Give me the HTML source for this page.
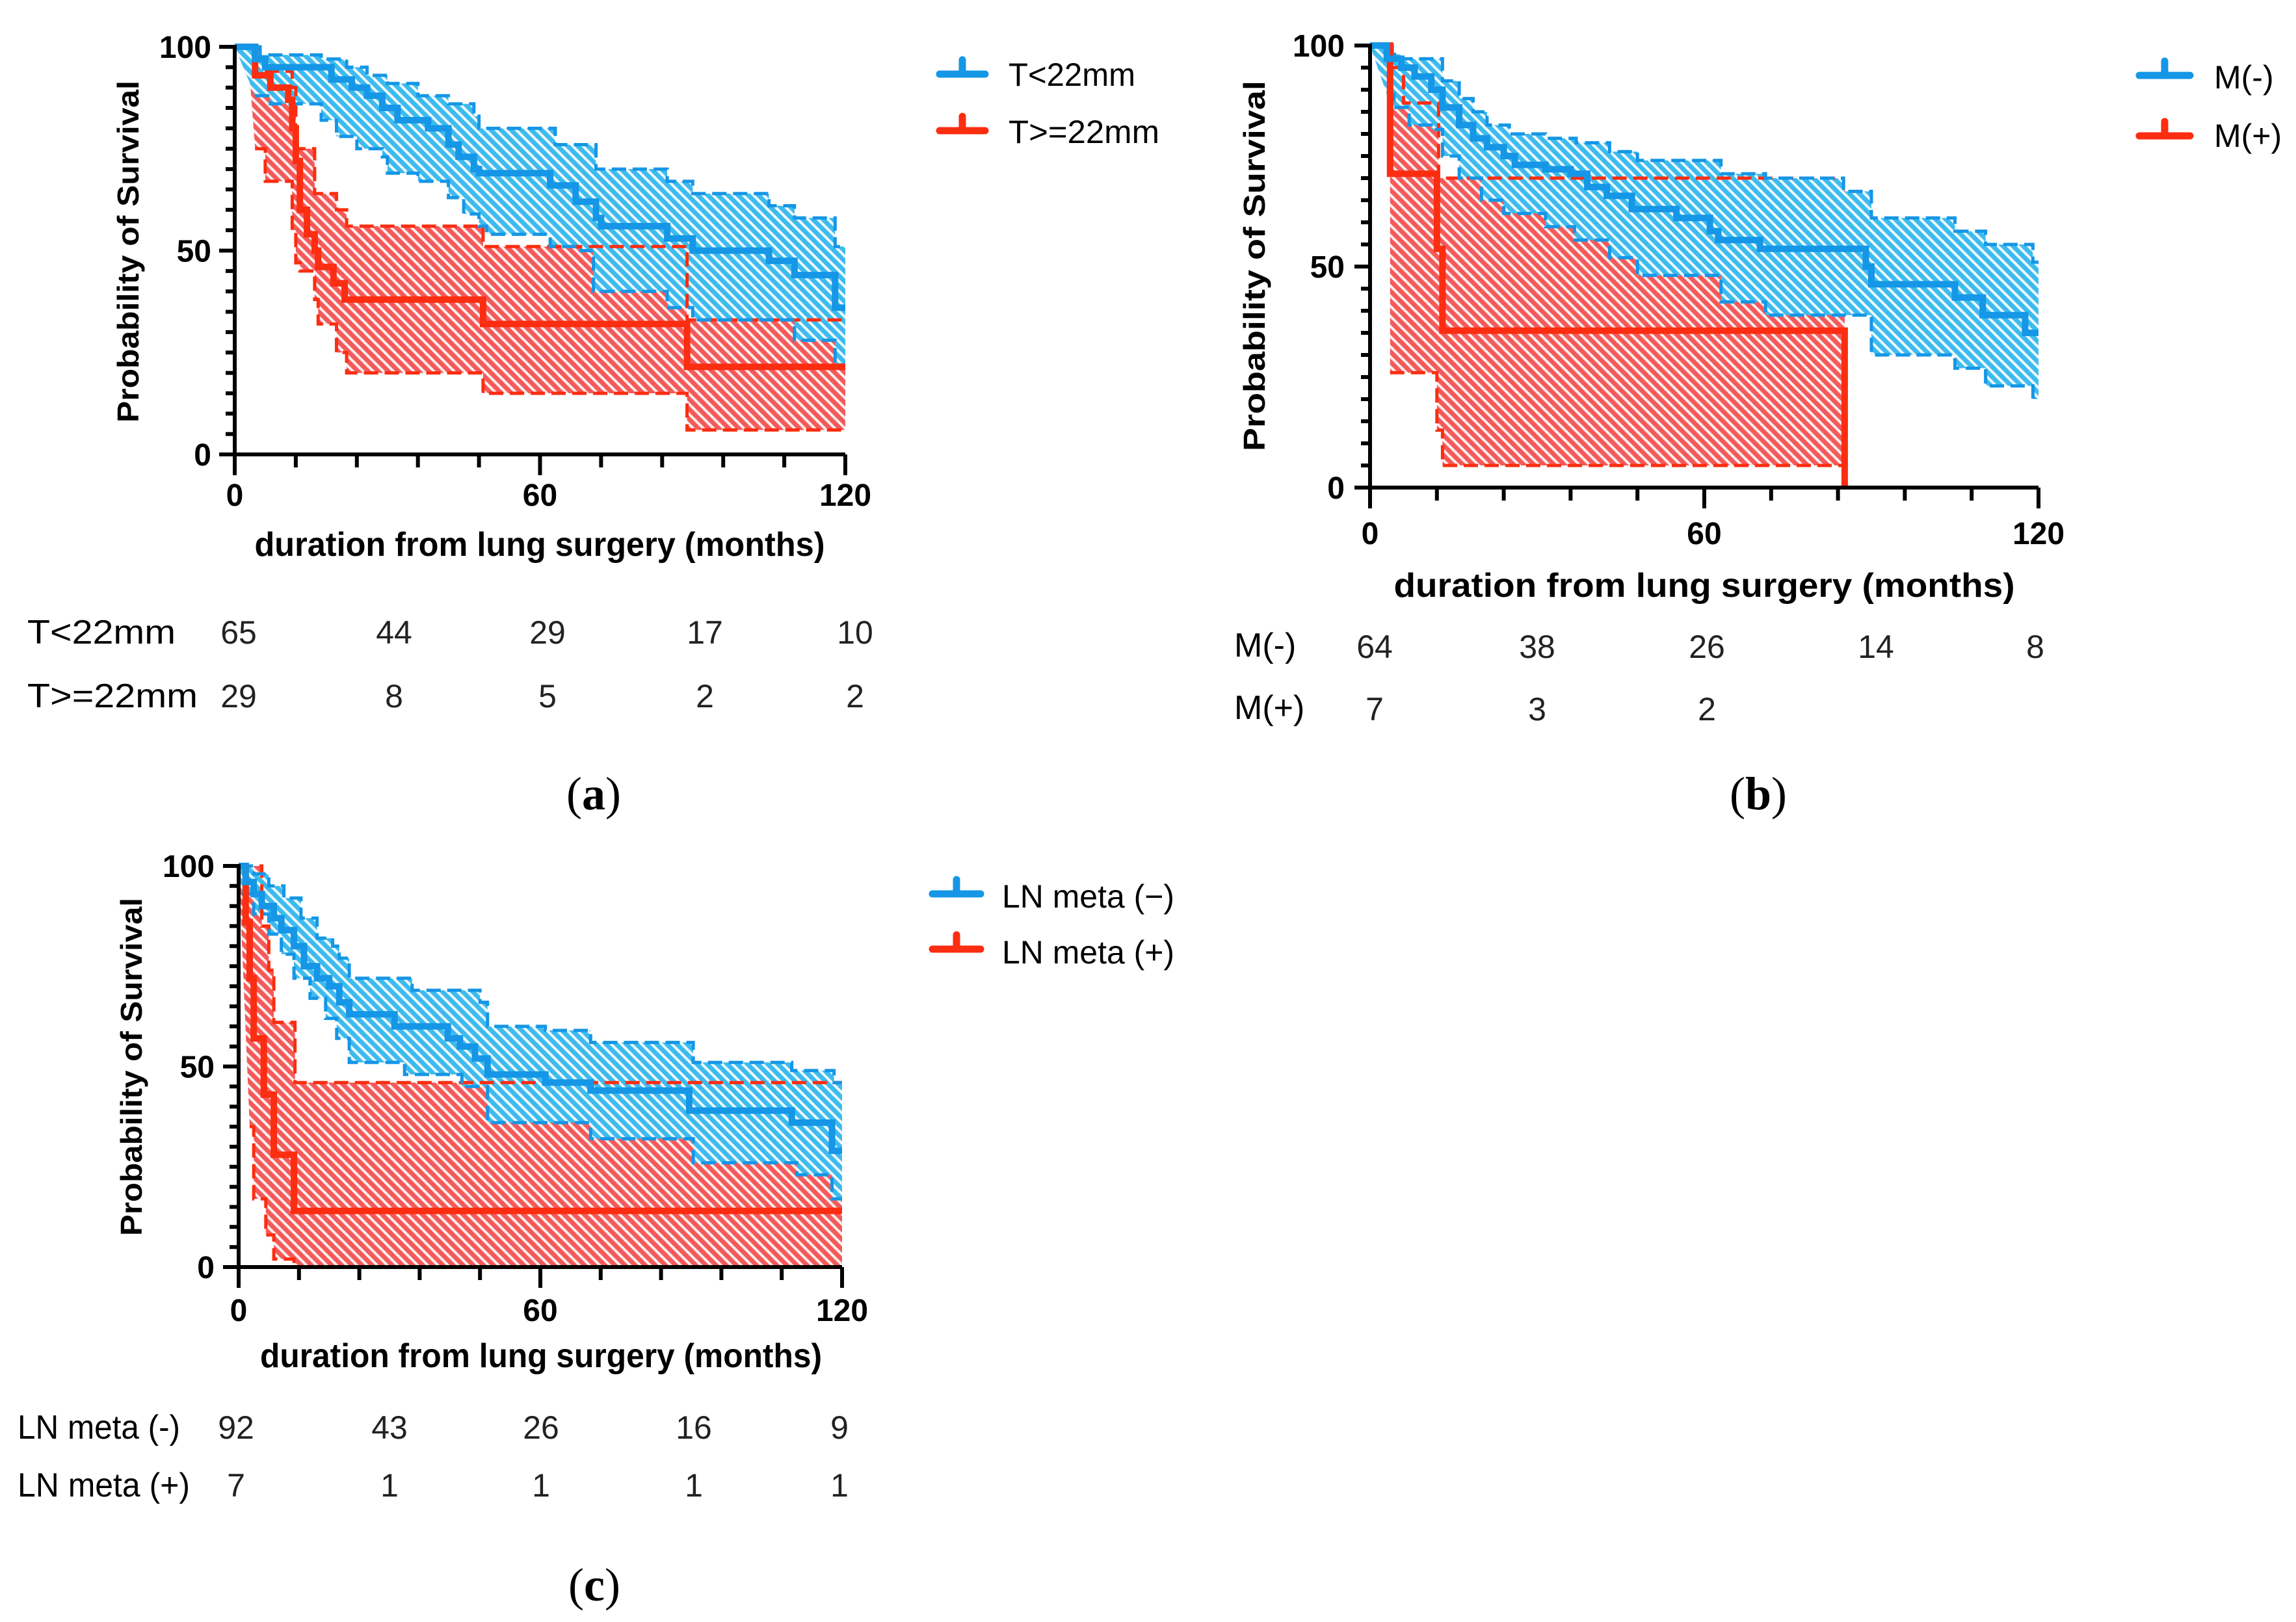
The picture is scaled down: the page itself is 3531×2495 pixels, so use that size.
<!DOCTYPE html>
<html><head><meta charset="utf-8"><style>
html,body{margin:0;padding:0;background:#fff;}
svg{display:block;}
.tk{font-family:"Liberation Sans Narrow","Liberation Sans",sans-serif;font-weight:bold;font-size:48px;fill:#000;}
.ax{font-family:"Liberation Sans Narrow","Liberation Sans",sans-serif;font-weight:bold;font-size:52px;fill:#000;}
.yl{font-family:"Liberation Sans",sans-serif;font-weight:bold;font-size:46px;fill:#000;}
.lg{font-family:"Liberation Sans Narrow","Liberation Sans",sans-serif;font-size:50px;fill:#000;}
.rk{font-family:"Liberation Sans Narrow","Liberation Sans",sans-serif;font-size:52px;fill:#000;}
.rn{font-family:"Liberation Sans Narrow","Liberation Sans",sans-serif;font-size:50px;fill:#222;}
.cap{font-family:"Liberation Serif",serif;font-size:72px;fill:#000;}
</style></head><body>
<svg id="fig" width="3531" height="2495" viewBox="0 0 3531 2495" xmlns="http://www.w3.org/2000/svg">
<defs>
<pattern id="hb" width="11" height="11" patternUnits="userSpaceOnUse" patternTransform="rotate(-45)">
<rect width="11" height="11" fill="#3dbbee"/><rect x="0" y="0" width="4" height="11" fill="#eef9fe"/>
</pattern>
<pattern id="hr" width="11" height="11" patternUnits="userSpaceOnUse" patternTransform="rotate(-45)">
<rect width="11" height="11" fill="#f45a5a"/><rect x="0" y="0" width="4" height="11" fill="#feeeee"/>
</pattern>
</defs>
<g id="pa"></g>
<g id="pb"></g>
<g id="pc"></g>

<!-- Panel a texts -->
<text class="yl" transform="translate(213,387) rotate(-90)" text-anchor="middle" textLength="526" lengthAdjust="spacingAndGlyphs">Probability of Survival</text>
<text class="ax" x="830" y="855" text-anchor="middle" textLength="877" lengthAdjust="spacingAndGlyphs">duration from lung surgery (months)</text>
<text class="lg" x="1551" y="132" textLength="195" lengthAdjust="spacingAndGlyphs">T&lt;22mm</text>
<text class="lg" x="1551" y="220" textLength="232" lengthAdjust="spacingAndGlyphs">T&gt;=22mm</text>
<text class="rk" x="42" y="990" textLength="228" lengthAdjust="spacingAndGlyphs">T&lt;22mm</text>
<text class="rk" x="42" y="1088" textLength="262" lengthAdjust="spacingAndGlyphs">T&gt;=22mm</text>
<text class="cap" x="913" y="1245" text-anchor="middle">(<tspan font-weight="bold">a</tspan>)</text>

<!-- Panel b texts -->
<text class="yl" transform="translate(1945,409) rotate(-90)" text-anchor="middle" textLength="570" lengthAdjust="spacingAndGlyphs">Probability of Survival</text>
<text class="ax" x="2621" y="918" text-anchor="middle" textLength="955" lengthAdjust="spacingAndGlyphs">duration from lung surgery (months)</text>
<text class="lg" x="3405" y="136">M(-)</text>
<text class="lg" x="3405" y="226">M(+)</text>
<text class="rk" x="1898" y="1010">M(-)</text>
<text class="rk" x="1898" y="1106">M(+)</text>
<text class="cap" x="2704" y="1245" text-anchor="middle">(<tspan font-weight="bold">b</tspan>)</text>

<!-- Panel c texts -->
<text class="yl" transform="translate(218,1641) rotate(-90)" text-anchor="middle" textLength="520" lengthAdjust="spacingAndGlyphs">Probability of Survival</text>
<text class="ax" x="832" y="2103" text-anchor="middle" textLength="864" lengthAdjust="spacingAndGlyphs">duration from lung surgery (months)</text>
<text class="lg" x="1541" y="1396" textLength="265" lengthAdjust="spacingAndGlyphs">LN meta (−)</text>
<text class="lg" x="1541" y="1482" textLength="265" lengthAdjust="spacingAndGlyphs">LN meta (+)</text>
<text class="rk" x="27" y="2213" textLength="250" lengthAdjust="spacingAndGlyphs">LN meta (-)</text>
<text class="rk" x="27" y="2302" textLength="265" lengthAdjust="spacingAndGlyphs">LN meta (+)</text>
<text class="cap" x="914" y="2462" text-anchor="middle">(<tspan font-weight="bold">c</tspan>)</text>
</svg>
<script>
// ---------- shared axis ----------
const xTickLabels = [0, 60, 120];
const yTickLabels = [0, 50, 100];

// ---------- Panel A data ----------
const aBlueSurvT = [0,4,6,19,23,26,29,32,38,42,44,47,48,62,67,71,72,85,90,105,110,118];
const aBlueSurvV = [100,97,95,92,90,88,85,82,80,76,73,70,69,66,62,58,56,53,50,47.5,44,36];
const aBlueUpT = [0,5,17,22,26,30,36,42,47,48,63,71,85,90,105,110,118];
const aBlueUpV = [100,98,97,95,93,91,88,86,83,80,76,70,67,64,61,58,51];
const aBlueLoT = [4,7,17,20,24,29,30,36,42,45,48,49.5,62,68,70.5,85,90,110,118];
const aBlueLoV = [88,86,82,78,75,73,69,67,63,59,56,54,51,50,40,36,33,28,22];
const aRedSurvT = [0,4,7,10.5,11.3,12,12.8,14.2,15.7,16.4,19.4,21.6,48.8,88.9];
const aRedSurvV = [100,93,90,87,80,72,60,54,50,46,42,38,32,21.5];
const aRedUpT = [2.5,4,11.3,12,15.7,20,22,48.8,88.9];
const aRedUpV = [100,94,90,75,64,60,56,51,33];
const aRedLoT = [4,6,11.3,12,12.8,15.7,16.4,20,22,48.8,88.9];
const aRedLoV = [75,67,55,47,45,38,32,25,20,15,6];
const aRiskBlue = [65,44,29,17,10];
const aRiskRed = [29,8,5,2,2];

// ---------- Panel B data ----------
const bBlueSurvT = [0,3,5.6,8,11,13,16,18.5,21,24,26,31.5,36,39,42.5,47,55,61,62.5,70,89,90,105,110,117.6];
const bBlueSurvV = [100,97,95,93,90,86,82,79,77,75,73,72,71,68,66,63,61,58,56,54,50,46,43,39,35];
const bBlueUpT = [0,4,5.6,13,16,18.5,21,25,31.5,37,43,48,63,71,85,90,105,110.5,119];
const bBlueUpV = [100,98,97,92,88,85,82,80,79,78,76,74,71,70,67,61,58,55,51];
const bBlueLoT = [3,4.3,7,11,13,16,20,24,31.5,36.7,43,48,63,71,90,105,110.5,119];
const bBlueLoV = [89,86,82,81,75,70,65,62,59,56,52,48,42,39,30,27,23,20];
const bRedSurvT = [0,3.6,12,13,85.2];
const bRedSurvV = [100,71,54,35.5,0];
const bRedUpT = [3.6,6,12.3];
const bRedUpV = [95,87,70];
const bRedLoT = [3.6,12,13];
const bRedLoV = [26,13,5];
const bRiskBlue = [64,38,26,14,8];
const bRiskRed = [7,3,2,"",""];

// ---------- Panel C data ----------
const cBlueSurvT = [0,1.4,3,4.6,7,8.5,11,13,15.6,18,20,22,31,41.6,44,47,49.5,61,70,89.6,110,118];
const cBlueSurvV = [100,96,93,90,87,84,80,75,72,70,66,63,60,57,55,52,48,46,44,39,36,29];
const cBlueUpT = [0,3,6,9,12.4,15.6,18.7,20,22,34.5,48,49.5,61,70,90.4,110,118.4];
const cBlueUpV = [100,98,95,92,87,82,80,77,72,69,66,60,59,56,51,49,46];
const cBlueLoT = [0.6,3,6,8.5,11,14.2,17.3,19.5,22,33,44.4,49.5,70,90.4,111,118];
const cBlueLoV = [93,88,83,78,72,67,62,57,51,48,45,36,32,26,23,17];
const cRedSurvT = [0,1.4,2.2,3,5,7,11];
const cRedSurvV = [100,86,72,57,43,28,14];
const cRedUpT = [0,4.6,6,7,11.2];
const cRedUpV = [100,85,74,61,46];
const cRedLoT = [2.2,3,5.4,7,11];
const cRedLoV = [35,17,8,2,0];
const cRiskBlue = [92,43,26,16,9];
const cRiskRed = [7,1,1,1,1];

const NS = "http://www.w3.org/2000/svg";
const BLUE = "#1596e6", RED = "#fc2d10";

function stepPts(ts, vs, tEnd, X, Y) {
  const p = [[X(ts[0]), Y(vs[0])]];
  for (let i = 1; i < ts.length; i++) {
    p.push([X(ts[i]), Y(vs[i-1])]);
    p.push([X(ts[i]), Y(vs[i])]);
  }
  p.push([X(tEnd), Y(vs[vs.length-1])]);
  return p;
}
function ptsStr(p) { return p.map(q => q[0].toFixed(1) + "," + q[1].toFixed(1)).join(" "); }

function panel(gid, L, d) {
  const g = document.getElementById(gid);
  const X = t => L.x0 + (L.x1 - L.x0) * t / 120;
  const Y = v => L.y0 - (L.y0 - L.y100) * v / 100;
  [["red", d.rUpT, d.rUpV, d.rLoT, d.rLoV, d.rEnd, "url(#hr)", RED],
   ["blue", d.bUpT, d.bUpV, d.bLoT, d.bLoV, d.bEnd, "url(#hb)", BLUE]].forEach(s => {
    const up = stepPts(s[1], s[2], s[5], X, Y);
    const lo = stepPts(s[3], s[4], s[5], X, Y);
    const poly = document.createElementNS(NS, "polygon");
    poly.setAttribute("points", ptsStr(up.concat(lo.slice().reverse())));
    poly.setAttribute("fill", s[6]);
    
    
    g.appendChild(poly);
  });
  [["red", d.rUpT, d.rUpV, d.rEnd, RED, "upper"], ["red", d.rLoT, d.rLoV, d.rEnd, RED, "lower"],
   ["blue", d.bUpT, d.bUpV, d.bEnd, BLUE, "upper"], ["blue", d.bLoT, d.bLoV, d.bEnd, BLUE, "lower"]].forEach(s => {
    const pl = document.createElementNS(NS, "polyline");
    pl.setAttribute("points", ptsStr(stepPts(s[1], s[2], s[3], X, Y)));
    pl.setAttribute("fill", "none");
    pl.setAttribute("stroke", s[4]);
    pl.setAttribute("stroke-width", "5");
    pl.setAttribute("stroke-dasharray", "22 10");
    
    
    g.appendChild(pl);
  });
  [["red", d.rST, d.rSV, d.rSEnd, RED], ["blue", d.bST, d.bSV, d.bSEnd, BLUE]].forEach(s => {
    const pl = document.createElementNS(NS, "polyline");
    pl.setAttribute("points", ptsStr(stepPts(s[1], s[2], s[3], X, Y)));
    pl.setAttribute("fill", "none");
    pl.setAttribute("stroke", s[4]);
    pl.setAttribute("stroke-width", "10");
    
    
    g.appendChild(pl);
  });
  const ax = document.createElementNS(NS, "path");
  let dd = "M" + L.x0 + "," + (L.y100 - 3) + " V" + L.y0 + " H" + L.x1;
  for (let v = 0; v <= 100; v += 5) {
    const len = (v % 50 === 0) ? 24 : 14;
    dd += " M" + L.x0 + "," + Y(v).toFixed(1) + " h" + (-len);
  }
  for (let t = 0; t <= 120; t += 12) {
    const len = (t % 60 === 0) ? 32 : 20;
    dd += " M" + X(t).toFixed(1) + "," + L.y0 + " v" + len;
  }
  ax.setAttribute("d", dd);
  ax.setAttribute("stroke", "#000");
  ax.setAttribute("stroke-width", "6");
  ax.setAttribute("fill", "none");
  
  
  g.appendChild(ax);
  xTickLabels.forEach(t => {
    const tx = document.createElementNS(NS, "text");
    tx.setAttribute("class", "tk");
    tx.setAttribute("x", X(t));
    tx.setAttribute("y", L.xlabY);
    tx.setAttribute("text-anchor", "middle");
    tx.textContent = t;
    
    
    g.appendChild(tx);
  });
  yTickLabels.forEach(v => {
    const tx = document.createElementNS(NS, "text");
    tx.setAttribute("class", "tk");
    tx.setAttribute("x", L.ylabX);
    tx.setAttribute("y", Y(v) + 17);
    tx.setAttribute("text-anchor", "end");
    tx.textContent = v;
    
    
    g.appendChild(tx);
  });
  [[BLUE, L.lgY[0], "blue"], [RED, L.lgY[1], "red"]].forEach(s => {
    const p = document.createElementNS(NS, "path");
    p.setAttribute("d", "M" + L.lgX + "," + s[1] + " h" + L.lgW + " M" + (L.lgX + L.lgW/2) + "," + s[1] + " v-22");
    p.setAttribute("stroke", s[0]);
    p.setAttribute("stroke-width", "11");
    p.setAttribute("stroke-linecap", "round");
    p.setAttribute("fill", "none");
    
    
    g.appendChild(p);
  });
  [[d.riskBlue, L.rkY[0], "blue"], [d.riskRed, L.rkY[1], "red"]].forEach(s => {
    s[0].forEach((n, i) => {
      const tx = document.createElementNS(NS, "text");
      tx.setAttribute("class", "rn");
      tx.setAttribute("x", L.rkX[i]);
      tx.setAttribute("y", s[1]);
      tx.setAttribute("text-anchor", "middle");
      tx.textContent = n;
      
      
      g.appendChild(tx);
    });
  });
}

panel("pa", {x0:361, x1:1300, y100:72, y0:699, xlabY:778, ylabX:325, lgX:1445, lgW:70, lgY:[114,201], rkY:[990,1088], rkX:[367,606,842,1084,1315]},
  {bST:aBlueSurvT,bSV:aBlueSurvV,bSEnd:120,bUpT:aBlueUpT,bUpV:aBlueUpV,bLoT:aBlueLoT,bLoV:aBlueLoV,bEnd:120,
   rST:aRedSurvT,rSV:aRedSurvV,rSEnd:120,rUpT:aRedUpT,rUpV:aRedUpV,rLoT:aRedLoT,rLoV:aRedLoV,rEnd:120,
   riskBlue:aRiskBlue,riskRed:aRiskRed});
panel("pb", {x0:2107, x1:3135, y100:70, y0:750, xlabY:837, ylabX:2068, lgX:3290, lgW:78, lgY:[116,209], rkY:[1012,1108], rkX:[2114,2364,2625,2885,3130]},
  {bST:bBlueSurvT,bSV:bBlueSurvV,bSEnd:120,bUpT:bBlueUpT,bUpV:bBlueUpV,bLoT:bBlueLoT,bLoV:bBlueLoV,bEnd:120,
   rST:bRedSurvT,rSV:bRedSurvV,rSEnd:85.2,rUpT:bRedUpT,rUpV:bRedUpV,rLoT:bRedLoT,rLoV:bRedLoV,rEnd:85.2,
   riskBlue:bRiskBlue,riskRed:bRiskRed});
panel("pc", {x0:367, x1:1295, y100:1332, y0:1949, xlabY:2032, ylabX:330, lgX:1434, lgW:74, lgY:[1375,1460], rkY:[2213,2302], rkX:[363,599,832,1067,1291]},
  {bST:cBlueSurvT,bSV:cBlueSurvV,bSEnd:120,bUpT:cBlueUpT,bUpV:cBlueUpV,bLoT:cBlueLoT,bLoV:cBlueLoV,bEnd:120,
   rST:cRedSurvT,rSV:cRedSurvV,rSEnd:120,rUpT:cRedUpT,rUpV:cRedUpV,rLoT:cRedLoT,rLoV:cRedLoV,rEnd:120,
   riskBlue:cRiskBlue,riskRed:cRiskRed});
</script>
</body></html>
